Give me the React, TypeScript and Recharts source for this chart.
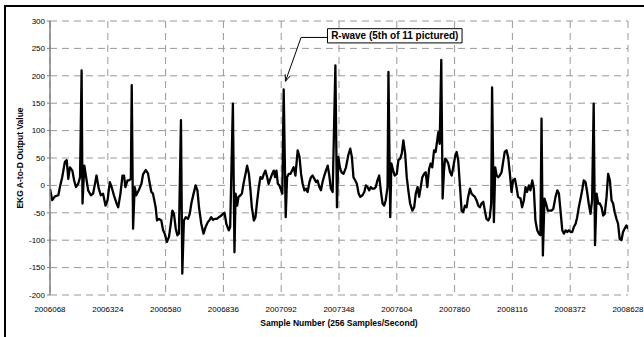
import React from "react";
import {
  LineChart,
  Line,
  XAxis,
  YAxis,
  CartesianGrid,
  ReferenceArea,
  ReferenceLine,
} from "recharts";

const FONT = "'Liberation Sans', Arial, sans-serif";

// sample numbers (x), 256 samples per second
const sampleNumbers = [
  2006068, 2006078, 2006090, 2006105, 2006112, 2006122, 2006134, 2006142, 2006149, 2006156,
  2006167, 2006175, 2006183, 2006193, 2006201, 2006208, 2006212, 2006220, 2006228, 2006237,
  2006249, 2006259, 2006274, 2006284, 2006293, 2006303, 2006314, 2006323, 2006333, 2006341,
  2006351, 2006363, 2006370, 2006380, 2006389, 2006396, 2006402, 2006411, 2006418, 2006426,
  2006430, 2006436, 2006443, 2006450, 2006461, 2006473, 2006480, 2006492, 2006502, 2006510,
  2006517, 2006524, 2006536, 2006542, 2006551, 2006561, 2006569, 2006576, 2006586, 2006595,
  2006603, 2006610, 2006617, 2006625, 2006632, 2006639, 2006648, 2006654, 2006661, 2006669,
  2006679, 2006687, 2006694, 2006704, 2006713, 2006721, 2006728, 2006738, 2006748, 2006757,
  2006767, 2006775, 2006782, 2006790, 2006797, 2006807, 2006816, 2006827, 2006834, 2006841,
  2006849, 2006860, 2006866, 2006878, 2006885, 2006890, 2006897, 2006903, 2006912, 2006918,
  2006925, 2006934, 2006941, 2006949, 2006956, 2006962, 2006971, 2006978, 2006986, 2006993,
  2007000, 2007008, 2007015, 2007022, 2007030, 2007036, 2007044, 2007052, 2007059, 2007065,
  2007071, 2007077, 2007084, 2007092, 2007097, 2007103, 2007112, 2007118, 2007125, 2007133,
  2007140, 2007147, 2007155, 2007165, 2007173, 2007180, 2007187, 2007195, 2007202, 2007209,
  2007217, 2007224, 2007231, 2007239, 2007246, 2007253, 2007261, 2007268, 2007275, 2007283,
  2007290, 2007298, 2007305, 2007312, 2007320, 2007332, 2007339, 2007345, 2007352, 2007359,
  2007368, 2007379, 2007389, 2007398, 2007405, 2007412, 2007420, 2007427, 2007435, 2007442,
  2007452, 2007460, 2007467, 2007474, 2007482, 2007489, 2007496, 2007504, 2007511, 2007518,
  2007526, 2007533, 2007541, 2007548, 2007555, 2007563, 2007567, 2007575, 2007580, 2007588,
  2007595, 2007604, 2007611, 2007619, 2007626, 2007633, 2007641, 2007648, 2007655, 2007663,
  2007673, 2007681, 2007688, 2007696, 2007703, 2007710, 2007717, 2007725, 2007732, 2007739,
  2007747, 2007754, 2007761, 2007769, 2007776, 2007783, 2007788, 2007794, 2007801, 2007807,
  2007813, 2007818, 2007825, 2007832, 2007840, 2007847, 2007854, 2007862, 2007869, 2007876,
  2007884, 2007891, 2007898, 2007906, 2007913, 2007920, 2007928, 2007935, 2007942, 2007950,
  2007957, 2007965, 2007972, 2007979, 2007987, 2007994, 2008001, 2008009, 2008016, 2008022,
  2008026, 2008034, 2008040, 2008046, 2008053, 2008060, 2008068, 2008075, 2008082, 2008090,
  2008097, 2008105, 2008112, 2008119, 2008127, 2008134, 2008141, 2008152, 2008159, 2008167,
  2008174, 2008181, 2008189, 2008196, 2008204, 2008211, 2008218, 2008226, 2008233, 2008240,
  2008245, 2008251, 2008258, 2008265, 2008273, 2008280, 2008289, 2008297, 2008307, 2008315,
  2008322, 2008329, 2008337, 2008344, 2008352, 2008359, 2008366, 2008374, 2008381, 2008388,
  2008396, 2008403, 2008410, 2008418, 2008425, 2008432, 2008440, 2008447, 2008454, 2008462,
  2008469, 2008476, 2008482, 2008489, 2008496, 2008503, 2008511, 2008518, 2008525, 2008533,
  2008540, 2008548, 2008555, 2008562, 2008569, 2008577, 2008584, 2008591, 2008599, 2008606,
  2008613, 2008621, 2008628,
];

// A-to-D output value at each sample above
const ekgValues = [
  -6, -27, -20, -18, -3, 15, 43, 46, 12, 33,
  27, 9, -3, 3, 15, 210, -33, 36, 15, -9,
  -18, -15, 18, -6, -18, -15, -37, -27, 6, -3,
  -18, -33, -40, -15, 18, 18, -3, 9, 9, 12,
  183, -79, -3, -18, -9, 3, 20, 28, 22, 3,
  -12, -15, -40, -64, -61, -64, -82, -88, -103, -94,
  -70, -46, -52, -79, -91, -88, 119, -161, -64, -58,
  -61, -52, -33, -15, 0, -9, -40, -70, -88, -76,
  -67, -63, -58, -63, -61, -61, -58, -55, -52, -50,
  -70, -82, -76, 149, -122, -15, -37, -21, -18, -15,
  3, 21, 36, 21, -9, -40, -64, -58, -27, -3,
  15, 12, 21, 27, 15, 3, 12, 21, 27, 15,
  27, 3, 0, -9, -15, 175, -58, 15, 21, 21,
  27, 33, 18, 64, 52, 21, 3, -9, -6, -12,
  6, 15, 18, 12, 6, 9, -3, -9, 6, 18,
  27, 36, 18, -6, -12, 219, -40, 52, 33, 24,
  21, 33, 55, 67, 52, 15, 9, 3, -15, -21,
  -18, -12, 0, -3, -9, -3, -6, -6, -3, 9,
  18, -9, -33, -37, -27, -3, 207, -58, 40, 27,
  18, 21, 46, 49, 58, 82, 58, 15, -9, -33,
  -46, -40, -15, -3, -21, -3, 15, 21, 24, -3,
  30, 40, 33, 64, 61, 82, 97, 76, 229, -24,
  27, 49, 46, 40, 24, 18, 33, 52, 61, 46,
  -3, -46, -49, -37, -40, -21, -6, -15, -18, -21,
  -27, -37, -40, -33, -30, -46, -61, -64, -58, -33,
  179, -67, 33, 18, 15, 18, 24, 43, 61, 64,
  52, 21, -12, 9, 12, -3, -21, -24, -40, -27,
  -3, -12, 0, -9, 9, -6, -64, -82, -88, -91,
  122, -128, -24, -33, -46, -46, -46, -43, -21, -9,
  -15, -46, -82, -88, -82, -85, -82, -85, -85, -76,
  -70, -58, -40, -24, -9, 9, 6, -12, -33, -52,
  -27, 149, -109, -15, -33, -33, -40, -55, -52, -21,
  21, 9, -27, -33, -49, -61, -70, -97, -100, -85,
  -79, -73, -79,
];

const xTicks = [
  2006068, 2006324, 2006580, 2006836, 2007092, 2007348, 2007604, 2007860, 2008116, 2008372,
  2008628,
];
const yTicks = [-200, -150, -100, -50, 0, 50, 100, 150, 200, 250, 300];

const annotationText = "R-wave (5th of 11 pictured)";

const data = sampleNumbers.map((s, i) => ({ sample: s, value: ekgValues[i] }));

const XTitle = (props: any) => {
  const vb = props.viewBox || {};
  return (
    <text
      x={vb.x + vb.width / 2}
      y={326}
      textAnchor="middle"
      fontSize={8.5}
      fontWeight="bold"
      fontFamily={FONT}
      fill="#000"
    >
      Sample Number (256 Samples/Second)
    </text>
  );
};

const YTitle = () => (
  <text
    x={20}
    y={158}
    transform="rotate(-90 20 158)"
    textAnchor="middle"
    dominantBaseline="central"
    fontSize={8.5}
    fontWeight="bold"
    fontFamily={FONT}
    fill="#000"
  >
    EKG A-to-D Output Value
  </text>
);

const BoxLabel = (props: any) => {
  const vb = props.viewBox || {};
  return (
    <text
      x={vb.x + vb.width / 2}
      y={vb.y + vb.height / 2}
      textAnchor="middle"
      dominantBaseline="central"
      fontSize={10}
      fontWeight="bold"
      fontFamily={FONT}
      fill="#000"
    >
      {annotationText}
    </text>
  );
};

// leader line with an open arrow head at its end
const ArrowLine = (p: any) => {
  const { x1, y1, x2, y2 } = p;
  const a = Math.atan2(y2 - y1, x2 - x1);
  const len = 7;
  const spread = 0.38;
  const h1x = x2 - len * Math.cos(a - spread);
  const h1y = y2 - len * Math.sin(a - spread);
  const h2x = x2 - len * Math.cos(a + spread);
  const h2y = y2 - len * Math.sin(a + spread);
  return (
    <g stroke="#000" strokeWidth={1} fill="none">
      <line x1={x1} y1={y1} x2={x2} y2={y2} />
      <polyline points={`${h1x},${h1y} ${x2},${y2} ${h2x},${h2y}`} />
    </g>
  );
};

export default function App() {
  return (
    <div
      style={{
        position: "absolute",
        left: 0,
        top: 0,
        width: 644,
        height: 337,
        overflow: "hidden",
        background: "#fff",
        fontFamily: FONT,
      }}
    >
      <div
        style={{
          position: "absolute",
          left: 4,
          top: 5,
          width: 700,
          height: 400,
          borderLeft: "2px solid #000",
          borderTop: "2px solid #000",
        }}
      />
      <div style={{ position: "absolute", left: 0, top: 0 }}>
        <LineChart
          width={644}
          height={337}
          data={data}
          margin={{ top: 21, right: 16, bottom: 0, left: 0 }}
        >
          <CartesianGrid stroke="#999999" strokeDasharray="7 5" />
          <XAxis
            dataKey="sample"
            type="number"
            domain={[2006068, 2008628]}
            ticks={xTicks}
            interval={0}
            allowDataOverflow
            axisLine={false}
            tickLine={false}
            tickMargin={5}
            height={42}
            tick={{ fontSize: 8, fill: "#000", fontFamily: FONT }}
            label={XTitle}
          />
          <YAxis
            type="number"
            domain={[-200, 300]}
            ticks={yTicks}
            interval={0}
            width={50}
            axisLine={{ stroke: "#808080", strokeWidth: 1.5 }}
            tickLine={{ stroke: "#808080" }}
            tickSize={3}
            tickMargin={2}
            tick={{ fontSize: 8, fill: "#000", fontFamily: FONT }}
            label={YTitle}
          />
          <ReferenceArea
            x1={2007297}
            x2={2007893}
            y1={260}
            y2={286}
            fill="#fff"
            fillOpacity={1}
            stroke="#000"
            strokeWidth={1}
            label={BoxLabel}
          />
          <ReferenceLine
            segment={[
              { x: 2007297, y: 270 },
              { x: 2007180, y: 270 },
            ]}
            stroke="#000"
            strokeWidth={1}
          />
          <ReferenceLine
            segment={[
              { x: 2007180, y: 270 },
              { x: 2007111, y: 190 },
            ]}
            shape={ArrowLine}
          />
          <Line
            type="linear"
            dataKey="value"
            stroke="#000"
            strokeWidth={2.3}
            strokeLinejoin="round"
            dot={false}
            activeDot={false}
            isAnimationActive={false}
          />
        </LineChart>
      </div>
    </div>
  );
}
